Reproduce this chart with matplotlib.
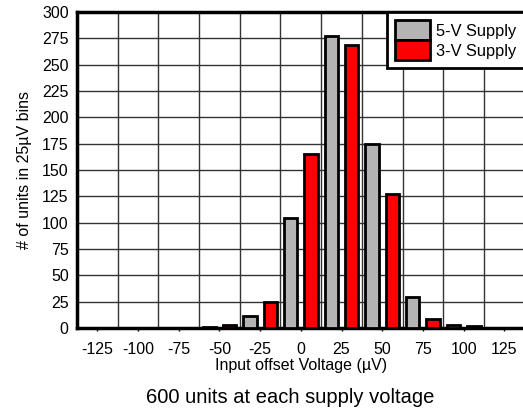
import matplotlib
matplotlib.use('Agg')
import numpy as np
import matplotlib.pyplot as plt

plt.rcParams['font.family'] = ['Liberation Sans', 'DejaVu Sans']

# bin centres (uV) and unit counts per bin
bins = [-125, -100, -75, -50, -25, 0, 25, 50, 75, 100, 125]
supply_5v = [0, 0, 0, 1, 11, 104, 277, 175, 29, 3, 0]
supply_3v = [0, 0, 0, 3, 25, 165, 269, 127, 9, 2, 0]

fig = plt.figure(figsize=(5.23, 4.17), dpi=100)
ax = fig.add_axes([0.1472, 0.2134, 0.856, 0.7578])

x = np.arange(len(bins))
ax.bar(x - 0.25, supply_5v, width=0.33, color='#b4b4b4', edgecolor='black',
       linewidth=2, label='5-V Supply', zorder=3)
ax.bar(x + 0.25, supply_3v, width=0.33, color='#ff0000', edgecolor='black',
       linewidth=2, label='3-V Supply', zorder=3)

ax.set_xlim(-0.5, len(bins) - 0.5)
ax.set_ylim(0, 300)
ax.set_yticks(np.arange(0, 301, 25))
ax.set_xticks(x)
ax.set_xticklabels([str(b) for b in bins])
ax.set_xticks(np.arange(-0.5, len(bins)), minor=True)

ax.grid(True, which='minor', axis='x', color='#333333', linewidth=1, zorder=0)
ax.grid(True, which='major', axis='y', color='#333333', linewidth=1, zorder=0)
ax.tick_params(axis='both', which='major', labelsize=11.5, length=2, width=1)
ax.tick_params(axis='y', length=0, pad=6)
ax.tick_params(axis='x', which='minor', length=0)
ax.tick_params(axis='x', which='major', pad=8)

for s in ax.spines.values():
    s.set_linewidth(2.5)

ax.set_xlabel('Input offset Voltage (µV)', fontsize=11.5, labelpad=1)
ax.set_ylabel('# of units in 25µV bins', fontsize=11.5, labelpad=7)

leg = ax.legend(loc='upper right', fontsize=11.8, fancybox=False, framealpha=1,
                edgecolor='black', borderaxespad=0, handlelength=2.1,
                handleheight=1.5, labelspacing=0, handletextpad=0.4,
                borderpad=0.5)
leg.get_frame().set_linewidth(2)

fig.text(0.555, 0.046, '600 units at each supply voltage', fontsize=14.5,
         ha='center', va='center')

fig.savefig('out.png', dpi=100)
